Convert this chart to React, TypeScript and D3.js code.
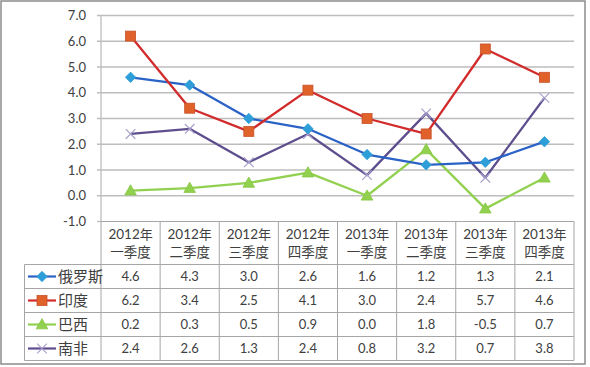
import React from "react";
import * as d3 from "d3";

const years = ["2012年", "2012年", "2012年", "2012年", "2013年", "2013年", "2013年", "2013年"];
const quarters = ["一季度", "二季度", "三季度", "四季度", "一季度", "二季度", "三季度", "四季度"];
const seriesNames = ["俄罗斯", "印度", "巴西", "南非"];
const russia = [4.6, 4.3, 3.0, 2.6, 1.6, 1.2, 1.3, 2.1];
const india = [6.2, 3.4, 2.5, 4.1, 3.0, 2.4, 5.7, 4.6];
const brazil = [0.2, 0.3, 0.5, 0.9, 0.0, 1.8, -0.5, 0.7];
const southAfrica = [2.4, 2.6, 1.3, 2.4, 0.8, 3.2, 0.7, 3.8];
const yTicks = [-1, 0, 1, 2, 3, 4, 5, 6, 7];

const seriesValues = [russia, india, brazil, southAfrica];
const lineColors = ["#2A62C6", "#D22B2B", "#92D050", "#5E4E8E"];
const markerFill = ["#2E9ED8", "#E0622A", "#92D050", "#A9A2CC"];
const markerStroke = ["#2E9ED8", "#C8502A", "#86C640", "#A9A2CC"];
const markerType = ["diamond", "square", "triangle", "x"];

const W = 590, H = 367;
const X0 = 101, X1 = 574;
const Y_TOP = 15.5, Y_BOT = 221.5;
const HEADER_H = 43, ROW_H = 24;
const LEG_X0 = 24.5;
const FONT = "'Noto Sans CJK SC', 'Noto Sans', sans-serif";
const NUMFONT = "Lato, 'Noto Sans', sans-serif";
const TEXT = "#404040";
const GRID = "#BDBDBD";
const TBORDER = "#A6A6A6";

function Marker({ type, x, y, i }: { type: string; x: number; y: number; i: number }) {
  const f = markerFill[i], s = markerStroke[i];
  if (type === "diamond") {
    const r = 5.2;
    return <path d={`M${x},${y - r}L${x + r},${y}L${x},${y + r}L${x - r},${y}Z`} fill={f} stroke={s} strokeWidth={0.8} />;
  }
  if (type === "square") {
    const r = 5;
    return <rect x={x - r} y={y - r} width={2 * r} height={2 * r} fill={f} stroke={s} strokeWidth={0.8} />;
  }
  if (type === "triangle") {
    const r = 5.8;
    return <path d={`M${x},${y - r}L${x + r},${y + r * 0.75}L${x - r},${y + r * 0.75}Z`} fill={f} stroke={s} strokeWidth={0.8} />;
  }
  const r = 4.8;
  return <path d={`M${x - r},${y - r}L${x + r},${y + r}M${x - r},${y + r}L${x + r},${y - r}`} stroke={s} strokeWidth={1.2} fill="none" />;
}

export default function App() {
  const x = d3.scaleBand<number>().domain(d3.range(8)).range([X0, X1]).padding(0);
  const y = d3.scaleLinear().domain([-1, 7]).range([Y_BOT, Y_TOP]);
  const cx = (i: number) => (x(i) as number) + x.bandwidth() / 2;
  const line = d3.line<number>().x((_, i) => cx(i)).y((d) => y(d));
  const tableTop = Y_BOT;
  const rowsTop = tableTop + HEADER_H;
  const tableBot = rowsTop + ROW_H * seriesNames.length;

  return (
    <div style={{ position: "absolute", left: 0, top: 0 }}>
      <svg width={W} height={H} style={{ display: "block", background: "#fff" }}>
        <rect x={1} y={1} width={584} height={363} fill="#fff" stroke="#8C8C8C" strokeWidth={1.5} />
        {yTicks.map((t) => (
          <g key={t}>
            {t !== -1 && <line x1={X0 - 4} x2={X1} y1={y(t)} y2={y(t)} stroke={GRID} strokeWidth={1.3} />}
            {t === -1 && <line x1={X0 - 4} x2={X0} y1={y(t)} y2={y(t)} stroke={GRID} strokeWidth={1.3} />}
            <text x={86} y={y(t)} dy="0.35em" textAnchor="end" fontFamily={NUMFONT} fontSize={13} fill={TEXT}>
              {t.toFixed(1)}
            </text>
          </g>
        ))}
        <line x1={X0} x2={X0} y1={Y_TOP} y2={Y_BOT} stroke={GRID} strokeWidth={1.3} />

        {/* table grid */}
        <line x1={X0} x2={X1} y1={tableTop} y2={tableTop} stroke={TBORDER} strokeWidth={1} />
        {seriesNames.map((_, r) => (
          <line key={"h" + r} x1={LEG_X0} x2={X1} y1={rowsTop + r * ROW_H} y2={rowsTop + r * ROW_H} stroke={TBORDER} strokeWidth={1} />
        ))}
        <line x1={LEG_X0} x2={X1} y1={tableBot} y2={tableBot} stroke={TBORDER} strokeWidth={1} />
        <line x1={LEG_X0} x2={LEG_X0} y1={rowsTop} y2={tableBot} stroke={TBORDER} strokeWidth={1} />
        {d3.range(9).map((i) => {
          const xx = i < 8 ? (x(i) as number) : X1;
          return <line key={"v" + i} x1={xx} x2={xx} y1={tableTop} y2={tableBot} stroke={TBORDER} strokeWidth={1} />;
        })}
        {years.map((yr, i) => (
          <g key={"c" + i} fontFamily={FONT} fontSize={13} fill={TEXT} textAnchor="middle">
            <text x={cx(i)} y={tableTop + 12.5} dy="0.35em" fontFamily={NUMFONT} fontSize={13.5}>
              {yr.slice(0, 4)}
              <tspan fontFamily={FONT} fontSize={13}>{yr.slice(4)}</tspan>
            </text>
            <text x={cx(i)} y={tableTop + 31} dy="0.35em" fontSize={13.5}>{quarters[i]}</text>
          </g>
        ))}
        {seriesValues.map((vals, r) => (
          <g key={"r" + r}>
            <line x1={28} x2={56} y1={rowsTop + r * ROW_H + ROW_H / 2} y2={rowsTop + r * ROW_H + ROW_H / 2} stroke={lineColors[r]} strokeWidth={2.2} />
            <Marker type={markerType[r]} x={42} y={rowsTop + r * ROW_H + ROW_H / 2} i={r} />
            <text x={58} y={rowsTop + r * ROW_H + ROW_H / 2} dy="0.35em" fontFamily={FONT} fontSize={15} fill={TEXT}>
              {seriesNames[r]}
            </text>
            {vals.map((v, i) => (
              <text key={i} x={cx(i)} y={rowsTop + r * ROW_H + ROW_H / 2} dy="0.35em" textAnchor="middle" fontFamily={NUMFONT} fontSize={13} fill={TEXT}>
                {v.toFixed(1)}
              </text>
            ))}
          </g>
        ))}

        {/* series lines */}
        {[3, 2, 0, 1].map((s) => (
          <g key={"s" + s}>
            <path d={line(seriesValues[s]) as string} fill="none" stroke={lineColors[s]} strokeWidth={2.3} strokeLinejoin="round" />
            {seriesValues[s].map((v, i) => (
              <Marker key={i} type={markerType[s]} x={cx(i)} y={y(v)} i={s} />
            ))}
          </g>
        ))}
      </svg>
    </div>
  );
}
